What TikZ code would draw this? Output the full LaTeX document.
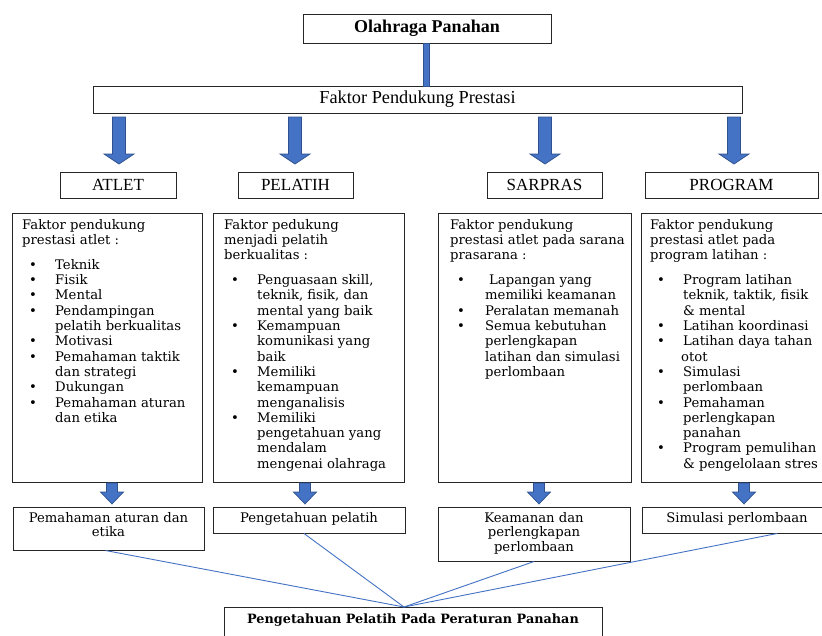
\documentclass[tikz,border=0pt]{standalone}
\usepackage{fontspec}
\setmainfont{DejaVu Serif}
\newfontfamily\tnr{Liberation Serif}
\usetikzlibrary{calc}
\definecolor{ablue}{HTML}{4472C4}
\definecolor{ablueD}{HTML}{2F528F}
\newcommand\bul{\makebox[33pt][l]{\hspace*{7pt}\textbullet}}
\newcommand\ind{\hspace*{33pt}}
\newcommand\blockarr[6]{% x, ytop, yhead, ytip, shaft half, head half
  \draw[blk] ({#1-#5},#2) -- ({#1+#5},#2) -- ({#1+#5},#3) -- ({#1+#6},#3) -- (#1,#4)
    -- ({#1-#6},#3) -- ({#1-#5},#3) -- cycle;}
\tikzset{
  box/.style={draw=black!85, line width=1pt, rectangle, inner sep=0pt},
  blk/.style={fill=ablue, draw=ablueD, line width=0.7pt},
  link/.style={draw=ablue, line width=0.9pt},
  head/.style={font=\tnr\fontsize{18.3}{21}\selectfont},
  lbl/.style={font=\tnr\fontsize{17}{19}\selectfont},
  body/.style={anchor=base west, inner sep=0pt, font=\fontsize{13.2}{15.3}\selectfont},
  low/.style={anchor=base, inner sep=0pt, font=\fontsize{13.2}{14.8}\selectfont},
}
\begin{document}
\begin{tikzpicture}[x=1pt,y=-1pt]
\useasboundingbox (0,0) rectangle (822,635);
\clip (0,0) rectangle (822,635);
\fill[white] (0,0) rectangle (822,635);

% top boxes
\node[box, font=\tnr\bfseries\fontsize{18}{20}\selectfont, minimum width=248pt, minimum height=29pt] (top) at (427,28.5) {Olahraga Panahan};
\node[box, head, minimum width=649pt, minimum height=27pt] (faktor) at (417.5,99.5) {Faktor Pendukung Prestasi};
\draw[blk] (423,{43.5}) rectangle (429,86);

% labels
\node[box, lbl, minimum width=116pt, minimum height=26pt] (atlet) at (118,185) {ATLET};
\node[box, lbl, minimum width=115pt, minimum height=26pt] (pelatih) at (295.5,185) {PELATIH};
\node[box, lbl, minimum width=115pt, minimum height=26pt] (sarpras) at (544.5,185) {SARPRAS};
\node[box, lbl, minimum width=173pt, minimum height=26pt] (program) at (731.5,185) {PROGRAM};

% big arrows
\blockarr{119}{117}{154}{164}{6.5}{15}
\blockarr{295}{117}{154}{164}{6.5}{15}
\blockarr{545}{117}{154}{164}{6.5}{15}
\blockarr{734}{117}{154}{164}{6.5}{15}

% big boxes
\node[box, minimum width=190pt, minimum height=269pt] (b1) at (107,347.5) {};
\node[box, minimum width=191pt, minimum height=269pt] (b2) at (308.5,347.5) {};
\node[box, minimum width=193pt, minimum height=269pt] (b3) at (534.5,347.5) {};
\node[box, minimum width=191pt, minimum height=269pt] (b4) at (736.5,347.5) {};

\node[body] (t1) at (22,229) {\begin{minipage}[t]{185pt}
Faktor pendukung\\
prestasi atlet :\\[9.7pt]
\bul Teknik\\
\bul Fisik\\
\bul Mental\\
\bul Pendampingan\\
\ind pelatih berkualitas\\
\bul Motivasi\\
\bul Pemahaman taktik\\
\ind dan strategi\\
\bul Dukungan\\
\bul Pemahaman aturan\\
\ind dan etika
\end{minipage}};

\node[body] (t2) at (224,229) {\begin{minipage}[t]{185pt}
Faktor pedukung\\
menjadi pelatih\\
berkualitas :\\[9.7pt]
\bul Penguasaan skill,\\
\ind teknik, fisik, dan\\
\ind mental yang baik\\
\bul Kemampuan\\
\ind komunikasi yang\\
\ind baik\\
\bul Memiliki\\
\ind kemampuan\\
\ind menganalisis\\
\bul Memiliki\\
\ind pengetahuan yang\\
\ind mendalam\\
\ind mengenai olahraga
\end{minipage}};

\node[body] (t3) at (450,229) {\begin{minipage}[t]{185pt}
Faktor pendukung\\
prestasi atlet pada sarana\\
prasarana :\\[9.7pt]
\makebox[35pt][l]{\hspace*{7pt}\textbullet}\hspace*{4pt}Lapangan yang\\
\hspace*{35pt}memiliki keamanan\\
\makebox[35pt][l]{\hspace*{7pt}\textbullet}Peralatan memanah\\
\makebox[35pt][l]{\hspace*{7pt}\textbullet}Semua kebutuhan\\
\hspace*{35pt}perlengkapan\\
\hspace*{35pt}latihan dan simulasi\\
\hspace*{35pt}perlombaan
\end{minipage}};

\node[body] (t4) at (650,229) {\begin{minipage}[t]{185pt}
Faktor pendukung\\
prestasi atlet pada\\
program latihan :\\[9.7pt]
\bul Program latihan\\
\ind teknik, taktik, fisik\\
\ind \& mental\\
\bul Latihan koordinasi\\
\bul Latihan daya tahan\\
\hspace*{31pt}otot\\
\bul Simulasi\\
\ind perlombaan\\
\bul Pemahaman\\
\ind perlengkapan\\
\ind panahan\\
\bul Program pemulihan\\
\ind \& pengelolaan stres
\end{minipage}};

% small arrows
\blockarr{112}{483}{492}{504}{5.5}{11.5}
\blockarr{305}{483}{492}{504}{5.5}{11.5}
\blockarr{539}{483}{492}{504}{5.5}{11.5}
\blockarr{744}{483}{492}{504}{5.5}{11.5}

% bottom boxes
\node[box, minimum width=191pt, minimum height=43pt] (bb1) at (108.5,528.5) {};
\node[box, minimum width=192pt, minimum height=26pt] (bb2) at (309,520) {};
\node[box, minimum width=192pt, minimum height=54pt] (bb3) at (534,534) {};
\node[box, minimum width=190pt, minimum height=26pt] (bb4) at (737,520) {};

\node[low] (s1) at (108.5,522) {\parbox[t]{190pt}{\centering Pemahaman aturan dan\\ etika}};
\node[low] (s2) at (309,522) {\parbox[t]{190pt}{\centering Pengetahuan pelatih}};
\node[low] (s3) at (534,522) {\parbox[t]{190pt}{\centering Keamanan dan\\ perlengkapan\\ perlombaan}};
\node[low] (s4) at (737,522) {\parbox[t]{190pt}{\centering Simulasi perlombaan}};

% final box
\node[box, minimum width=378pt, minimum height=43pt] (final) at (413,628.5) {};
\node[anchor=base, inner sep=0pt, font=\bfseries\fontsize{12.8}{15}\selectfont] (ft) at (413,623) {Pengetahuan Pelatih Pada Peraturan Panahan};

% links
\coordinate (conv) at (404,607);
\draw[link] ([xshift=-3pt]bb1.south) -- (conv);
\draw[link] ([xshift=-5pt]bb2.south) -- (conv);
\draw[link] (bb3.south) -- (conv);
\draw[link] ([xshift=40pt]bb4.south) -- (conv);
\end{tikzpicture}
\end{document}
